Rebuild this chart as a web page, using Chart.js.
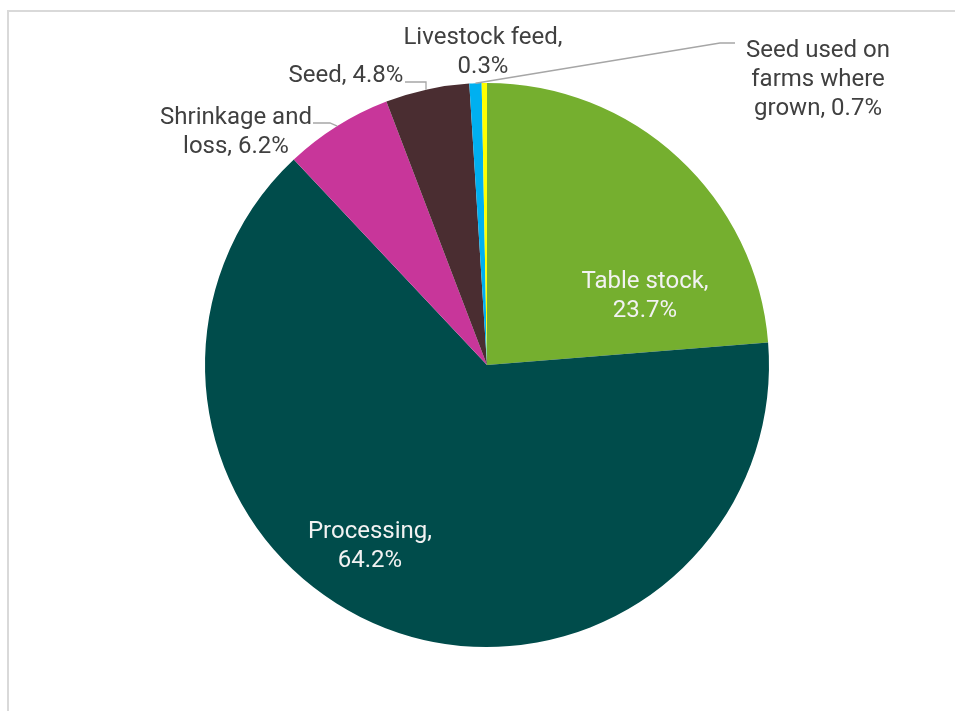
<!DOCTYPE html>
<html>
<head>
<meta charset="utf-8">
<script src="https://cdn.jsdelivr.net/npm/chart.js@4"></script>
<style>
    html, body { margin: 0; padding: 0; background: #ffffff; }
    #wrap { position: relative; width: 955px; height: 711px; }
    #frame { position: absolute; left: 7px; top: 10px; right: -2px; bottom: -2px; border-left: 2px solid #d9d9d9; border-top: 2px solid #d9d9d9; }
    canvas { position: absolute; left: 0; top: 0; }
</style>
</head>
<body>
<div id="wrap">
    <div id="frame"></div>
    <canvas id="useChart" width="955" height="711"></canvas>
</div>
<script>
// Dados do gráfico (ordem horária a partir do topo)
const categories = ['Table stock', 'Processing', 'Shrinkage and loss', 'Seed', 'Seed used on farms where grown', 'Livestock feed'];
const shares = [23.7, 64.2, 6.2, 4.8, 0.7, 0.3];
const sliceColors = ['#75af2f', '#004c4b', '#c8369a', '#4a2d31', '#00b0f0', '#ffff00'];

// Linhas de texto de cada rótulo
const labelLines = [
    ['Table stock,', '23.7%'],
    ['Processing,', '64.2%'],
    ['Shrinkage and', 'loss, 6.2%'],
    ['Seed, 4.8%'],
    ['Seed used on', 'farms where', 'grown, 0.7%'],
    ['Livestock feed,', '0.3%']
];

// Posição dos rótulos (centro da primeira linha) e cor
const labelPos = [
    { x: 645, y: 282, color: '#f2f2f2' },
    { x: 370, y: 532, color: '#f2f2f2' },
    { x: 236, y: 118, color: '#404040' },
    { x: 346, y: 76, color: '#404040' },
    { x: 818, y: 51, color: '#404040' },
    { x: 483, y: 38, color: '#404040' }
];

// Linhas de chamada: ponto inicial, cotovelo, índice da fatia
// vertical = desce do cotovelo até a borda da fatia
const leaders = [
    { index: 2, from: [313, 123], elbow: [330, 123] },
    { index: 3, from: [405, 82], elbow: [426, 82], vertical: true },
    { index: 4, from: [735, 43], elbow: [720, 43] }
];

const labelPlugin = {
    id: 'pieLabels',
    afterDatasetsDraw(chart) {
        const ctx = chart.ctx;
        const arcs = chart.getDatasetMeta(0).data;
        ctx.save();

        // Linhas de chamada
        ctx.strokeStyle = '#a6a6a6';
        ctx.lineWidth = 1.3;
        leaders.forEach(l => {
            const p = arcs[l.index].getProps(['x', 'y', 'startAngle', 'endAngle', 'outerRadius']);
            let ex, ey;
            if (l.vertical) {
                const dx = l.elbow[0] - p.x;
                ex = l.elbow[0];
                ey = p.y - Math.sqrt(p.outerRadius * p.outerRadius - dx * dx);
            } else {
                const mid = (p.startAngle + p.endAngle) / 2;
                ex = p.x + Math.cos(mid) * p.outerRadius;
                ey = p.y + Math.sin(mid) * p.outerRadius;
            }
            ctx.beginPath();
            ctx.moveTo(l.from[0], l.from[1]);
            ctx.lineTo(l.elbow[0], l.elbow[1]);
            ctx.lineTo(ex, ey);
            ctx.stroke();
        });

        // Textos
        ctx.font = '24px Roboto';
        ctx.textAlign = 'center';
        ctx.textBaseline = 'middle';
        labelLines.forEach((lines, i) => {
            const pos = labelPos[i];
            ctx.fillStyle = pos.color;
            lines.forEach((line, j) => {
                ctx.fillText(line, pos.x, pos.y + j * 29);
            });
        });
        ctx.restore();
    }
};

const ctx = document.getElementById('useChart').getContext('2d');
new Chart(ctx, {
    type: 'pie',
    data: {
        labels: categories,
        datasets: [{
            data: shares,
            backgroundColor: sliceColors,
            borderWidth: 0
        }]
    },
    options: {
        responsive: false,
        animation: false,
        layout: {
            padding: { top: 83, bottom: 64, left: 200, right: 181 }
        },
        plugins: {
            legend: { display: false },
            tooltip: { enabled: false }
        }
    },
    plugins: [labelPlugin]
});
</script>
</body>
</html>
